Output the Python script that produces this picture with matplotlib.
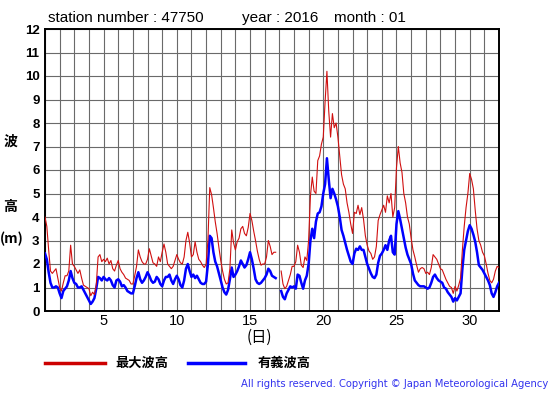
import matplotlib
matplotlib.use("Agg")
import matplotlib.pyplot as plt
import numpy as np
from matplotlib.lines import Line2D

plt.rcParams["font.family"] = ["Liberation Sans", "Noto Sans CJK JP", "DejaVu Sans"]

# 3-hourly samples, day 1.000 ... 32.000 (nan = missing)
nan = np.nan
max_wave = [
    4.0, 3.6, 2.6, 1.7, 1.6, 1.7, 1.8, 1.4,
    1.0, 0.85, 1.2, 1.5, 1.5, 1.7, 2.8, 2.0,
    1.9, 1.75, 1.6, 1.75, 1.4, 1.1, 1.05, 1.0,
    0.95, 0.65, 0.8, 0.7, 1.1, 2.3, 2.4, 2.1,
    2.2, 2.1, 2.25, 2.0, 2.15, 1.8, 1.7, 1.95,
    2.15, 1.8, 1.65, 1.55, 1.4, 1.35, 1.3, 1.15,
    1.15, 1.5, 1.9, 2.6, 2.3, 2.1, 2.0, 2.0,
    2.2, 2.65, 2.35, 2.05, 2.0, 1.9, 2.3, 2.1,
    2.5, 2.85, 2.5, 2.0, 1.9, 1.8, 1.9, 2.15,
    2.4, 2.2, 2.05, 2.0, 2.3, 3.0, 3.35, 2.9,
    2.3, 2.4, 2.95, 2.5, 2.2, 2.1, 1.95, 1.85,
    2.0, 3.0, 5.25, 4.95, 4.4, 3.8, 3.3, 2.7,
    2.15, 1.7, 1.35, 1.15, 1.2, 1.8, 3.45, 2.9,
    2.6, 2.95, 3.1, 3.5, 3.6, 3.3, 3.2, 3.55,
    4.15, 3.85, 3.4, 3.0, 2.55, 2.2, 1.95, 2.0,
    2.0, 2.3, 3.0, 2.75, 2.4, 2.5, 2.5, nan,
    nan, 1.7, 1.15, 0.95, 1.05, 1.3, 1.55, 1.9,
    1.9, 2.1, 2.8, 2.5, 1.95, 1.85, 2.3, 2.15,
    3.0, 4.9, 5.7, 5.1, 5.0, 6.4, 6.6, 7.1,
    7.4, 8.9, 10.2, 8.5, 7.4, 8.4, 7.8, 8.0,
    7.4, 6.6, 5.8, 5.4, 5.2, 4.6, 4.2, 3.7,
    3.3, 4.2, 4.15, 4.5, 4.1, 4.4, 3.9, 3.2,
    2.8, 2.55, 2.45, 2.2, 2.3, 2.75, 3.85, 4.1,
    4.3, 4.5, 4.2, 4.9, 4.6, 5.0, 4.0, 4.4,
    6.1, 7.0, 6.3, 5.9, 5.0, 4.6, 4.0, 3.7,
    3.1, 2.6, 2.3, 1.95, 1.65, 1.8, 1.85, 1.8,
    1.6, 1.65, 1.55, 1.85, 2.4, 2.3, 2.2, 2.0,
    1.8, 1.75, 1.55, 1.35, 1.2, 1.05, 1.0, 0.75,
    1.05, 0.85, 1.1, 1.4, 2.6, 3.6, 4.4, 5.0,
    5.85, 5.6, 5.2, 4.3, 3.5, 3.0, 2.8, 2.5,
    2.35, 2.0, 1.6, 1.3, 1.2, 1.35, 1.7, 1.9,
    1.85,
]
sig_wave = [
    2.45, 2.2, 1.65, 1.2, 1.0, 1.0, 1.05, 1.0,
    0.75, 0.55, 0.85, 0.95, 1.05, 1.3, 1.7, 1.4,
    1.2, 1.15, 1.0, 1.0, 1.05, 0.9, 0.75, 0.6,
    0.45, 0.3, 0.4, 0.55, 0.95, 1.45, 1.4, 1.3,
    1.45, 1.35, 1.3, 1.4, 1.3, 1.1, 1.0, 1.3,
    1.35, 1.25, 1.05, 1.1, 1.0, 0.85, 0.8, 0.75,
    0.75, 1.05, 1.4, 1.65, 1.35, 1.2, 1.3, 1.45,
    1.65, 1.5, 1.3, 1.2, 1.25, 1.45, 1.35, 1.15,
    1.05, 1.3, 1.45, 1.45, 1.55, 1.3, 1.15, 1.35,
    1.5, 1.35, 1.1, 1.0, 1.3, 1.8, 2.0, 1.7,
    1.45, 1.55, 1.4, 1.5, 1.35, 1.2, 1.15, 1.15,
    1.25, 2.0, 3.2, 3.1, 2.5, 2.1, 1.9, 1.6,
    1.3, 1.0, 0.8, 0.7, 0.9, 1.35, 1.85, 1.45,
    1.55, 1.7, 1.9, 2.15, 2.0, 1.85, 1.95, 2.2,
    2.5, 2.2, 1.8, 1.35, 1.2, 1.15, 1.2, 1.3,
    1.4, 1.55, 1.8, 1.7, 1.5, 1.45, 1.4, nan,
    nan, 0.85, 0.6, 0.5, 0.75, 0.9, 1.05, 1.0,
    1.05, 0.95, 1.55, 1.5, 1.2, 0.95, 1.3, 1.5,
    2.0, 3.0, 3.5, 3.1, 3.8, 4.15, 4.2, 4.45,
    5.0, 5.4, 6.5, 5.6, 4.8, 5.2, 5.0, 4.75,
    4.45, 4.0, 3.45, 3.2, 2.9, 2.6, 2.35, 2.1,
    2.0, 2.45, 2.65, 2.6, 2.75, 2.6, 2.6, 2.3,
    2.0, 1.8, 1.6, 1.45, 1.4, 1.55, 2.05, 2.35,
    2.45, 2.6, 2.8, 2.6, 3.0, 3.2, 2.5, 2.4,
    3.7, 4.25, 3.9, 3.5, 3.1, 2.7, 2.4, 2.2,
    2.0, 1.6, 1.3, 1.2, 1.1, 1.05, 1.05, 1.05,
    1.0, 0.95, 1.0, 1.2, 1.45, 1.55, 1.4, 1.3,
    1.25, 1.2, 1.0, 0.95, 0.8, 0.7, 0.6, 0.4,
    0.55, 0.45, 0.6, 0.75, 1.8, 2.6, 3.0, 3.4,
    3.65, 3.5, 3.25, 2.95, 2.5, 1.95, 1.85, 1.75,
    1.6, 1.45, 1.3, 1.1, 0.75, 0.6, 0.8, 1.05,
    1.2,
]
days = 1 + np.arange(len(max_wave)) / 8
x_ticks = [5, 10, 15, 20, 25, 30]
y_ticks = list(range(0, 13))

W, H = 555, 395
fig = plt.figure(figsize=(W / 100, H / 100), dpi=100)
ax = fig.add_axes([45 / W, 84 / H, 454 / W, 282 / H])

ax.plot(days, sig_wave, color="#0000ff", lw=1.8, zorder=3)
ax.plot(days, max_wave, color="#d01010", lw=0.8, zorder=4)

ax.set_xlim(1, 32)
ax.set_ylim(0, 12)
ax.set_xticks(range(1, 33), minor=True)
ax.set_xticks(x_ticks)
ax.set_yticks(y_ticks)
ax.grid(True, which="both", color="#6a6a6a", lw=0.8)
ax.tick_params(length=0, which="both")
ax.tick_params(axis="x", labelsize=10.5, pad=2)
ax.tick_params(axis="y", labelsize=9.5, pad=4)
for lab in ax.get_yticklabels():
    lab.set_fontweight("bold")
for s in ax.spines.values():
    s.set_linewidth(1.4)
    s.set_color("black")

cjk = ["Noto Sans CJK JP", "DejaVu Sans"]
fig.text(48 / W, 1 - 18 / H, "station number : 47750", fontsize=11, va="center")
fig.text(242 / W, 1 - 18 / H, "year : 2016", fontsize=11, va="center")
fig.text(334 / W, 1 - 18 / H, "month : 01", fontsize=11, va="center")

fig.text(10 / W, 1 - 142 / H, "波", family=cjk, fontsize=10, fontweight="bold", ha="center", va="center")
fig.text(10 / W, 1 - 207 / H, "高", family=cjk, fontsize=10, fontweight="bold", ha="center", va="center")
fig.text(12 / W, 1 - 239 / H, "(m)", family=cjk, fontsize=10, fontweight="bold", ha="center", va="center")
fig.text(259 / W, 1 - 337 / H, "(日)", family=cjk, fontsize=11, ha="center", va="center")

ly = 1 - 363 / H
fig.add_artist(Line2D([45 / W, 105 / W], [ly, ly], color="#cc0000", lw=2.5))
fig.text(115 / W, ly, "最大波高", family=cjk, fontsize=9.5, fontweight="bold", va="center")
fig.add_artist(Line2D([188 / W, 245 / W], [ly, ly], color="#0000ff", lw=2.5))
fig.text(258 / W, ly, "有義波高", family=cjk, fontsize=9.5, fontweight="bold", va="center")

fig.text(548 / W, 1 - 384 / H, "All rights reserved. Copyright © Japan Meteorological Agency",
         family=["DejaVu Sans"], fontsize=7.2, color="#3333ee", ha="right", va="center")

fig.savefig("out.png", dpi=100)
